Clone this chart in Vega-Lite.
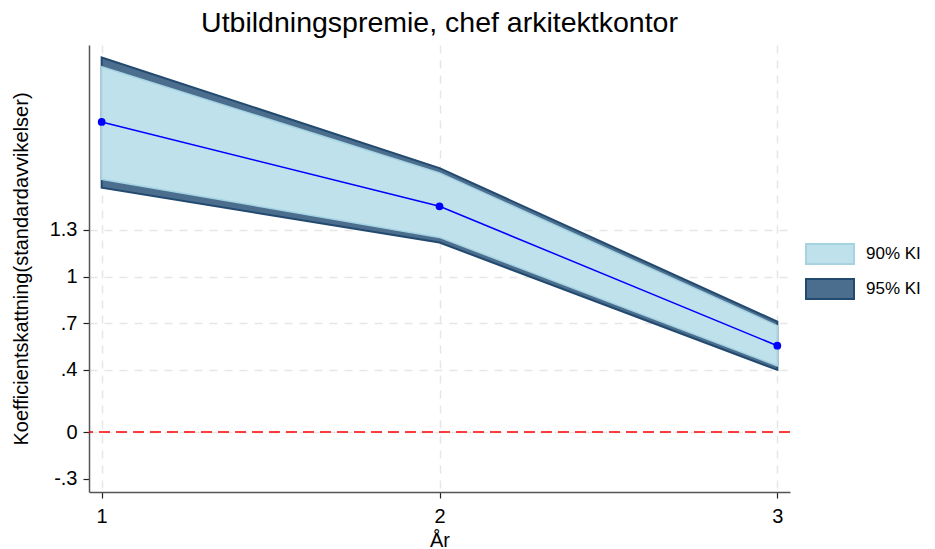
{
  "$schema": "https://vega.github.io/schema/vega-lite/v6.json",
  "autosize": {"type": "none"},
  "width": 701,
  "height": 447,
  "padding": {"left": 89, "top": 45, "right": 145, "bottom": 57},
  "background": "white",
  "title": {"text": "Utbildningspremie, chef arkitektkontor", "font": "Liberation Sans", "fontSize": 28.5, "fontWeight": "normal", "color": "#000000", "anchor": "middle", "offset": 8},
  "config": {"view": {"stroke": null}, "font": "Liberation Sans"},
  "data": {"values": [
    {"year": 1, "est": 1.995, "lo90": 1.626, "hi90": 2.35, "lo95": 1.572, "hi95": 2.41},
    {"year": 2, "est": 1.452, "lo90": 1.252, "hi90": 1.667, "lo95": 1.219, "hi95": 1.698},
    {"year": 3, "est": 0.555, "lo90": 0.426, "hi90": 0.684, "lo95": 0.4, "hi95": 0.71}
  ]},
  "encoding": {
    "x": {"field": "year", "type": "quantitative",
      "scale": {"domain": [0.9625, 3.0375], "nice": false, "zero": false},
      "axis": {"tickCount": 3, "format": "d", "labelOverlap": false, "labelFlush": false, "title": "År", "titleFont": "Liberation Sans", "titleFontSize": 20, "titleFontWeight": "normal", "titleColor": "#000", "titlePadding": 4,
        "labelFont": "Liberation Sans", "labelFontSize": 20, "labelColor": "#000", "labelPadding": 8,
        "domainColor": "#555", "domainWidth": 1.5, "tickColor": "#222", "tickSize": 6, "tickWidth": 1.2,
        "grid": true, "gridColor": "#e6e6e6", "gridDash": [8, 7], "gridWidth": 1.5}
    }
  },
  "layer": [
    {
      "mark": {"type": "area", "strokeWidth": 2, "opacity": 1},
      "encoding": {
        "y": {"field": "hi95", "type": "quantitative",
          "scale": {"domain": [-0.386, 2.49], "nice": false, "zero": false},
          "axis": {"values": [-0.3, 0, 0.4, 0.7, 1, 1.3], "tickCount": 6, "format": ".1~f", "labelOverlap": false, "labelFlush": false,
            "labelExpr": "datum.value == 0 ? '0' : datum.value < -0.1 ? '-.3' : datum.value < 0.5 ? '.4' : datum.value < 0.8 ? '.7' : datum.label",
            "title": "Koefficientskattning(standardavvikelser)", "titleFont": "Liberation Sans", "titleFontSize": 20, "titleFontWeight": "normal", "titleColor": "#000", "titlePadding": 18,
            "labelFont": "Liberation Sans", "labelFontSize": 20, "labelColor": "#000", "labelPadding": 6,
            "domainColor": "#555", "domainWidth": 1.5, "tickColor": "#222", "tickSize": 6, "tickWidth": 1.2,
            "grid": true, "gridColor": "#e6e6e6", "gridDash": [8, 7], "gridWidth": 1.5,
            "gridOpacity": {"condition": {"test": "datum.value < -0.1", "value": 0}, "value": 1}}
        },
        "y2": {"field": "lo95"},
        "fill": {"datum": "95% KI", "type": "nominal",
          "scale": {"domain": ["90% KI", "95% KI"], "range": ["#bee1eb", "#4b6d8e"]},
          "legend": {"title": null, "orient": "none", "legendX": 730, "legendY": 198, "padding": 0,
            "symbolType": "M-2.4,-1H2.4V1H-2.4Z", "symbolSize": 400, "symbolOpacity": 1, "symbolStrokeWidth": 2,
            "labelFont": "Liberation Sans", "labelFontSize": 17, "labelColor": "#000", "labelOffset": 25, "rowPadding": 7}
        },
        "stroke": {"datum": "95% KI", "type": "nominal",
          "scale": {"domain": ["90% KI", "95% KI"], "range": ["#a6d3e2", "#224a6f"]},
          "legend": {"title": null, "orient": "none", "legendX": 730, "legendY": 198, "padding": 0,
            "symbolType": "M-2.4,-1H2.4V1H-2.4Z", "symbolSize": 400, "symbolOpacity": 1, "symbolStrokeWidth": 2,
            "labelFont": "Liberation Sans", "labelFontSize": 17, "labelColor": "#000", "labelOffset": 25, "rowPadding": 7}
        }
      }
    },
    {
      "mark": {"type": "area", "strokeWidth": 1.5, "opacity": 1},
      "encoding": {
        "y": {"field": "hi90", "type": "quantitative"},
        "y2": {"field": "lo90"},
        "fill": {"datum": "90% KI", "type": "nominal"},
        "stroke": {"datum": "90% KI", "type": "nominal"}
      }
    },
    {
      "data": {"values": [{"ref": 0}]},
      "mark": {"type": "rule", "color": "#ff0000", "strokeWidth": 1.5, "strokeDash": [11, 6]},
      "encoding": {"x": null, "y": {"field": "ref", "type": "quantitative"}}
    },
    {
      "mark": {"type": "line", "color": "#0000ff", "strokeWidth": 1.5},
      "encoding": {"y": {"field": "est", "type": "quantitative"}}
    },
    {
      "mark": {"type": "point", "filled": true, "color": "#0000ff", "size": 60, "opacity": 1},
      "encoding": {"y": {"field": "est", "type": "quantitative"}}
    }
  ]
}
